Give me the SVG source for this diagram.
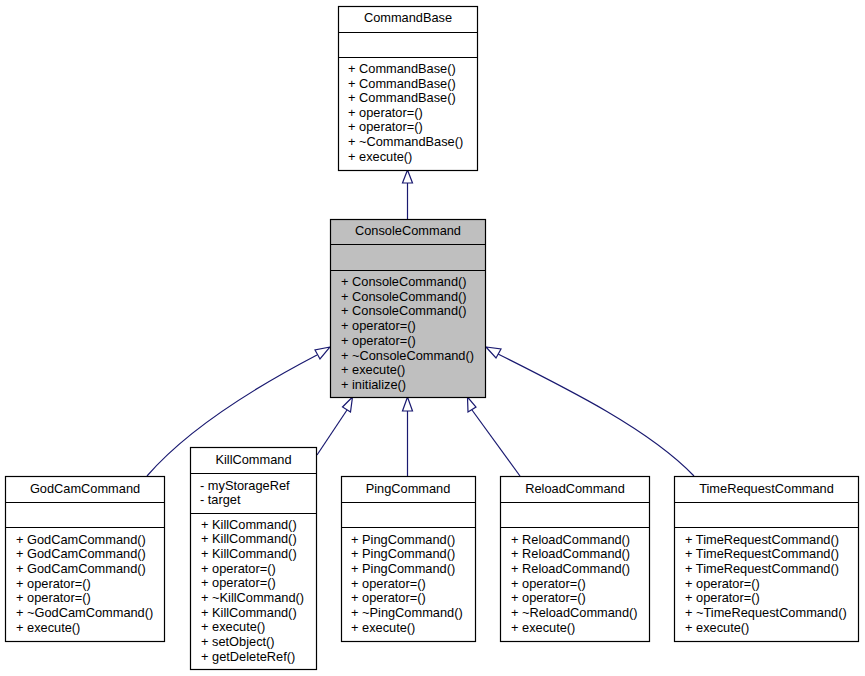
<svg xmlns="http://www.w3.org/2000/svg" width="865" height="676" viewBox="0 0 865 676">
<style>
.box{fill:#fff;stroke:#000;stroke-width:1.2}
.gray{fill:#bfbfbf}
.div{stroke:#000;stroke-width:1.2}
text{font-family:"Liberation Sans",Arial,sans-serif;font-size:12.8px;fill:#000}
.t{text-anchor:middle}
.e{fill:none;stroke:#191970;stroke-width:1.2}
.ah{fill:#fff;stroke:#191970;stroke-width:1.2}
</style>
<rect width="865" height="676" fill="#fff"/>
<g id="edges">
<path class="e" d="M407.5,219 L407.5,183"/>
<polygon class="ah" points="407.5,170 402.5,183 412.5,183"/>
<path class="e" d="M147,476 C185,432 250,390 317,355"/>
<polygon class="ah" points="330,347 315,350 320,359"/>
<path class="e" d="M694,476 C650,430 570,390 498,354"/>
<polygon class="ah" points="486,347 496,358 501,349"/>
<path class="e" d="M317,455 L347,410"/>
<polygon class="ah" points="352.5,397 342.5,407 350.5,412"/>
<path class="e" d="M407.5,476 L407.5,411"/>
<polygon class="ah" points="407.5,397 402.5,411 412.5,411"/>
<path class="e" d="M520,476 L472,410"/>
<polygon class="ah" points="467.5,397 468,412 476,407"/>
</g>
<g id="CommandBase">
<rect class="box" x="338.5" y="6.5" width="139" height="164"/>
<line class="div" x1="338.5" y1="32.5" x2="477.5" y2="32.5"/>
<line class="div" x1="338.5" y1="57.5" x2="477.5" y2="57.5"/>
<text class="t" x="408" y="22">CommandBase</text>
<text x="348" y="73">+ CommandBase()</text>
<text x="348" y="87.6">+ CommandBase()</text>
<text x="348" y="102.2">+ CommandBase()</text>
<text x="348" y="116.8">+ operator=()</text>
<text x="348" y="131.4">+ operator=()</text>
<text x="348" y="146">+ ~CommandBase()</text>
<text x="348" y="160.6">+ execute()</text>
</g>
<g id="ConsoleCommand">
<rect class="box gray" x="330.5" y="219.5" width="155" height="178"/>
<line class="div" x1="330.5" y1="244.5" x2="485.5" y2="244.5"/>
<line class="div" x1="330.5" y1="270.5" x2="485.5" y2="270.5"/>
<text class="t" x="408" y="235">ConsoleCommand</text>
<text x="341" y="286">+ ConsoleCommand()</text>
<text x="341" y="300.7">+ ConsoleCommand()</text>
<text x="341" y="315.4">+ ConsoleCommand()</text>
<text x="341" y="330.1">+ operator=()</text>
<text x="341" y="344.8">+ operator=()</text>
<text x="341" y="359.5">+ ~ConsoleCommand()</text>
<text x="341" y="374.2">+ execute()</text>
<text x="341" y="388.9">+ initialize()</text>
</g>
<g id="GodCamCommand">
<rect class="box" x="5.5" y="476.5" width="159" height="165"/>
<line class="div" x1="5.5" y1="502.5" x2="164.5" y2="502.5"/>
<line class="div" x1="5.5" y1="527.5" x2="164.5" y2="527.5"/>
<text class="t" x="85" y="493">GodCamCommand</text>
<text x="16" y="543.5">+ GodCamCommand()</text>
<text x="16" y="558.2">+ GodCamCommand()</text>
<text x="16" y="572.9">+ GodCamCommand()</text>
<text x="16" y="587.6">+ operator=()</text>
<text x="16" y="602.3">+ operator=()</text>
<text x="16" y="617">+ ~GodCamCommand()</text>
<text x="16" y="631.7">+ execute()</text>
</g>
<g id="KillCommand">
<rect class="box" x="190.5" y="447.5" width="126" height="222"/>
<line class="div" x1="190.5" y1="473.5" x2="316.5" y2="473.5"/>
<line class="div" x1="190.5" y1="513.5" x2="316.5" y2="513.5"/>
<text class="t" x="253.5" y="464">KillCommand</text>
<text x="200" y="489.5">- myStorageRef</text>
<text x="200" y="504">- target</text>
<text x="201" y="528.5">+ KillCommand()</text>
<text x="201" y="543.2">+ KillCommand()</text>
<text x="201" y="557.9">+ KillCommand()</text>
<text x="201" y="572.6">+ operator=()</text>
<text x="201" y="587.3">+ operator=()</text>
<text x="201" y="602">+ ~KillCommand()</text>
<text x="201" y="616.7">+ KillCommand()</text>
<text x="201" y="631.4">+ execute()</text>
<text x="201" y="646.1">+ setObject()</text>
<text x="201" y="660.8">+ getDeleteRef()</text>
</g>
<g id="PingCommand">
<rect class="box" x="341.5" y="476.5" width="134" height="165"/>
<line class="div" x1="341.5" y1="502.5" x2="475.5" y2="502.5"/>
<line class="div" x1="341.5" y1="527.5" x2="475.5" y2="527.5"/>
<text class="t" x="408" y="493">PingCommand</text>
<text x="351" y="543.5">+ PingCommand()</text>
<text x="351" y="558.2">+ PingCommand()</text>
<text x="351" y="572.9">+ PingCommand()</text>
<text x="351" y="587.6">+ operator=()</text>
<text x="351" y="602.3">+ operator=()</text>
<text x="351" y="617">+ ~PingCommand()</text>
<text x="351" y="631.7">+ execute()</text>
</g>
<g id="ReloadCommand">
<rect class="box" x="500.5" y="476.5" width="149" height="165"/>
<line class="div" x1="500.5" y1="502.5" x2="649.5" y2="502.5"/>
<line class="div" x1="500.5" y1="527.5" x2="649.5" y2="527.5"/>
<text class="t" x="575" y="493">ReloadCommand</text>
<text x="511" y="543.5">+ ReloadCommand()</text>
<text x="511" y="558.2">+ ReloadCommand()</text>
<text x="511" y="572.9">+ ReloadCommand()</text>
<text x="511" y="587.6">+ operator=()</text>
<text x="511" y="602.3">+ operator=()</text>
<text x="511" y="617">+ ~ReloadCommand()</text>
<text x="511" y="631.7">+ execute()</text>
</g>
<g id="TimeRequestCommand">
<rect class="box" x="674.5" y="476.5" width="184" height="165"/>
<line class="div" x1="674.5" y1="502.5" x2="858.5" y2="502.5"/>
<line class="div" x1="674.5" y1="527.5" x2="858.5" y2="527.5"/>
<text class="t" x="766.5" y="493">TimeRequestCommand</text>
<text x="685" y="543.5">+ TimeRequestCommand()</text>
<text x="685" y="558.2">+ TimeRequestCommand()</text>
<text x="685" y="572.9">+ TimeRequestCommand()</text>
<text x="685" y="587.6">+ operator=()</text>
<text x="685" y="602.3">+ operator=()</text>
<text x="685" y="617">+ ~TimeRequestCommand()</text>
<text x="685" y="631.7">+ execute()</text>
</g>
</svg>
